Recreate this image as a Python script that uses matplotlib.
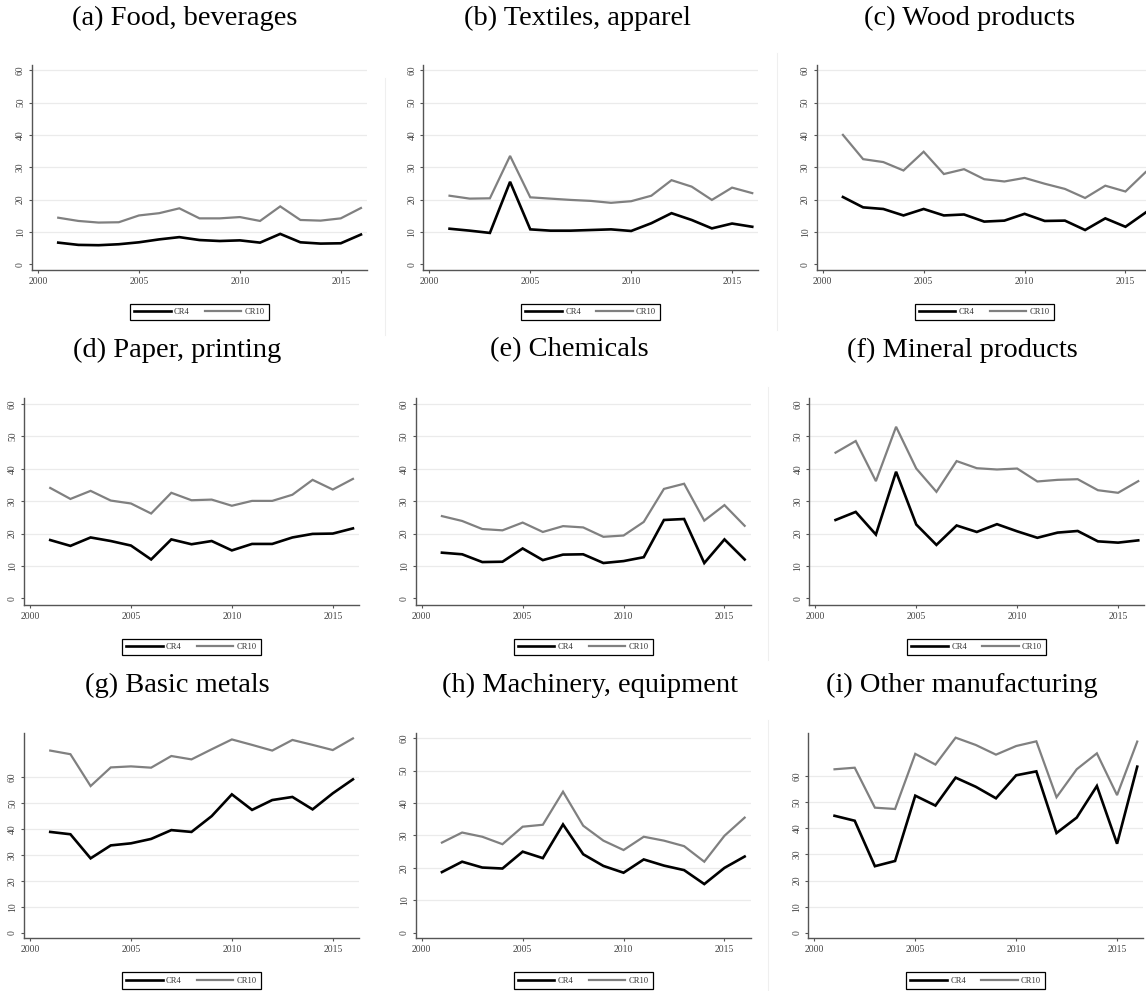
"""
plot.py - CR4 / CR10 concentration ratios by manufacturing sector, 3x3 panel figure.
Writes out.png (1146x991 px).
"""
import numpy as np
import matplotlib
matplotlib.use("Agg")
import matplotlib.pyplot as plt
from matplotlib.lines import Line2D

years = list(range(2001, 2017))

titles = ["(a) Food, beverages", "(b) Textiles, apparel", "(c) Wood products",
          "(d) Paper, printing", "(e) Chemicals", "(f) Mineral products",
          "(g) Basic metals", "(h) Machinery, equipment", "(i) Other manufacturing"]

cr4_food = [6.7, 6.0, 5.9, 6.2, 6.8, 7.7, 8.4, 7.5, 7.2, 7.4, 6.7, 9.4, 6.8, 6.4, 6.5, 9.2]
cr10_food = [14.4, 13.4, 12.9, 13.0, 15.1, 15.8, 17.3, 14.2, 14.2, 14.6, 13.4, 17.9, 13.7, 13.5, 14.2, 17.4]

cr4_textiles = [11.0, 10.4, 9.7, 25.5, 10.8, 10.4, 10.4, 10.6, 10.8, 10.3, 12.7, 15.8, 13.7, 11.1, 12.6, 11.6]
cr10_textiles = [21.2, 20.3, 20.4, 33.5, 20.7, 20.3, 19.9, 19.6, 19.0, 19.5, 21.2, 26.0, 24.0, 19.9, 23.7, 22.0]

cr4_wood = [20.8, 17.6, 17.1, 15.1, 17.1, 15.1, 15.4, 13.2, 13.5, 15.6, 13.4, 13.5, 10.6, 14.2, 11.6, 16.0]
cr10_wood = [40.0, 32.5, 31.6, 29.0, 34.8, 27.9, 29.4, 26.3, 25.6, 26.7, 24.9, 23.3, 20.5, 24.3, 22.5, 28.5]

cr4_paper = [18.0, 16.2, 18.8, 17.7, 16.3, 12.0, 18.2, 16.7, 17.7, 14.8, 16.8, 16.8, 18.8, 19.9, 20.0, 21.6]
cr10_paper = [34.1, 30.7, 33.2, 30.2, 29.3, 26.2, 32.6, 30.3, 30.5, 28.6, 30.1, 30.1, 32.0, 36.6, 33.6, 36.9]

cr4_chem = [14.1, 13.6, 11.2, 11.3, 15.4, 11.8, 13.5, 13.6, 10.9, 11.5, 12.7, 24.2, 24.5, 10.9, 18.2, 12.0]
cr10_chem = [25.4, 23.9, 21.4, 21.0, 23.4, 20.5, 22.3, 21.9, 19.0, 19.4, 23.6, 33.8, 35.4, 24.0, 28.8, 22.4]

cr4_mineral = [24.2, 26.7, 19.7, 39.1, 22.8, 16.5, 22.5, 20.5, 22.9, 20.7, 18.7, 20.3, 20.8, 17.6, 17.2, 17.9]
cr10_mineral = [45.0, 48.6, 36.2, 53.0, 40.1, 32.9, 42.4, 40.2, 39.8, 40.1, 36.1, 36.6, 36.8, 33.4, 32.6, 36.2]

cr4_metals = [38.9, 38.0, 28.7, 33.7, 34.5, 36.2, 39.6, 38.9, 45.0, 53.4, 47.4, 51.2, 52.4, 47.6, 53.8, 59.2]
cr10_metals = [70.3, 68.9, 56.6, 63.8, 64.2, 63.7, 68.2, 66.9, 70.8, 74.6, 72.5, 70.3, 74.4, 72.5, 70.5, 75.0]

cr4_machinery = [18.7, 21.9, 20.1, 19.8, 25.0, 23.0, 33.4, 24.2, 20.6, 18.5, 22.6, 20.7, 19.3, 15.0, 20.0, 23.5]
cr10_machinery = [27.8, 30.9, 29.6, 27.3, 32.7, 33.3, 43.5, 33.0, 28.4, 25.5, 29.6, 28.4, 26.7, 21.9, 29.9, 35.5]

cr4_other = [44.8, 42.9, 25.5, 27.5, 52.5, 48.7, 59.4, 55.9, 51.5, 60.3, 61.8, 38.2, 44.1, 56.2, 34.1, 63.6]
cr10_other = [62.6, 63.2, 47.9, 47.4, 68.5, 64.4, 74.7, 71.9, 68.2, 71.5, 73.3, 51.9, 62.6, 68.7, 52.7, 73.2]

cr4_all = [cr4_food, cr4_textiles, cr4_wood, cr4_paper, cr4_chem, cr4_mineral,
           cr4_metals, cr4_machinery, cr4_other]
cr10_all = [cr10_food, cr10_textiles, cr10_wood, cr10_paper, cr10_chem, cr10_mineral,
            cr10_metals, cr10_machinery, cr10_other]

yticks = [0, 10, 20, 30, 40, 50, 60]
xticks = [2000, 2005, 2010, 2015]

W, H = 1146, 991
XLIM = (1999.7, 2016.3)
AX_W = 335  # px

# panel layout in pixels: left spine x, top y, bottom y, ylim, title centre (x, y)
layout = [
    (32.0, 65.0, 270.0, (-1.76, 61.6), (185, 18)),
    (423.3, 65.0, 270.0, (-1.76, 61.6), (577, 18)),
    (816.7, 65.0, 270.0, (-1.76, 61.6), (970, 18)),
    (24.0, 398.3, 605.0, (-2.07, 61.8), (177, 350)),
    (415.7, 398.3, 605.0, (-2.07, 61.8), (569, 350)),
    (809.3, 398.3, 605.0, (-2.07, 61.8), (962, 350)),
    (24.0, 732.7, 938.3, (-2.16, 77.2), (177, 685)),
    (415.7, 732.7, 938.3, (-1.73, 61.7), (590, 685)),
    (808.3, 732.7, 938.3, (-2.10, 76.6), (962, 685)),
]

plt.rcParams.update({"font.family": ["Liberation Serif", "DejaVu Serif"],
                     "figure.facecolor": "white", "axes.facecolor": "white"})

fig = plt.figure(figsize=(W / 100, H / 100), dpi=100)

# faint borders of the pasted panel images
for x0, y0, y1 in [(385, 78, 335), (777, 53, 330), (768, 387, 660), (768, 720, 991)]:
    fig.add_artist(Line2D([x0 / W, x0 / W], [1 - y0 / H, 1 - y1 / H],
                          color="#efefef", lw=0.8, transform=fig.transFigure))

for i, (left, top, bottom, ylim, tpos) in enumerate(layout):
    ax = fig.add_axes([left / W, 1 - bottom / H, AX_W / W, (bottom - top) / H])
    ax.plot(years, cr4_all[i], color="black", lw=1.9, label="CR4", solid_joinstyle="miter")
    ax.plot(years, cr10_all[i], color="#808080", lw=1.6, label="CR10", solid_joinstyle="miter")
    ax.set_xlim(*XLIM)
    ax.set_ylim(*ylim)
    ax.set_xticks(xticks)
    ax.set_yticks(yticks)
    for t in yticks[1:]:
        if t < ylim[1] - 1:
            ax.axhline(t, color="#ebebeb", lw=0.9, zorder=0)
    for s in ("top", "right"):
        ax.spines[s].set_visible(False)
    for s in ("left", "bottom"):
        ax.spines[s].set_color("#555555")
        ax.spines[s].set_linewidth(1.0)
    ax.tick_params(axis="both", direction="out", length=2.5, width=0.8, color="#555555",
                   labelsize=6.9, labelcolor="#444444", pad=2.5)
    for lab in ax.get_yticklabels():
        lab.set_rotation(90)
        lab.set_va("center")
    leg = ax.legend(loc="upper center", bbox_to_anchor=(0.5, -34 / (bottom - top)),
                    ncol=2, fontsize=6.1, frameon=True, fancybox=False, framealpha=1,
                    edgecolor="black", handlelength=4.3, handletextpad=0.4,
                    columnspacing=1.8, borderpad=0.5, borderaxespad=0)
    leg.get_frame().set_linewidth(0.9)
    for t in leg.get_texts():
        t.set_color("#333333")
    fig.text(tpos[0] / W, 1 - tpos[1] / H, titles[i], ha="center", va="center",
             fontsize=20.5, color="black")

fig.savefig("out.png", dpi=100)
